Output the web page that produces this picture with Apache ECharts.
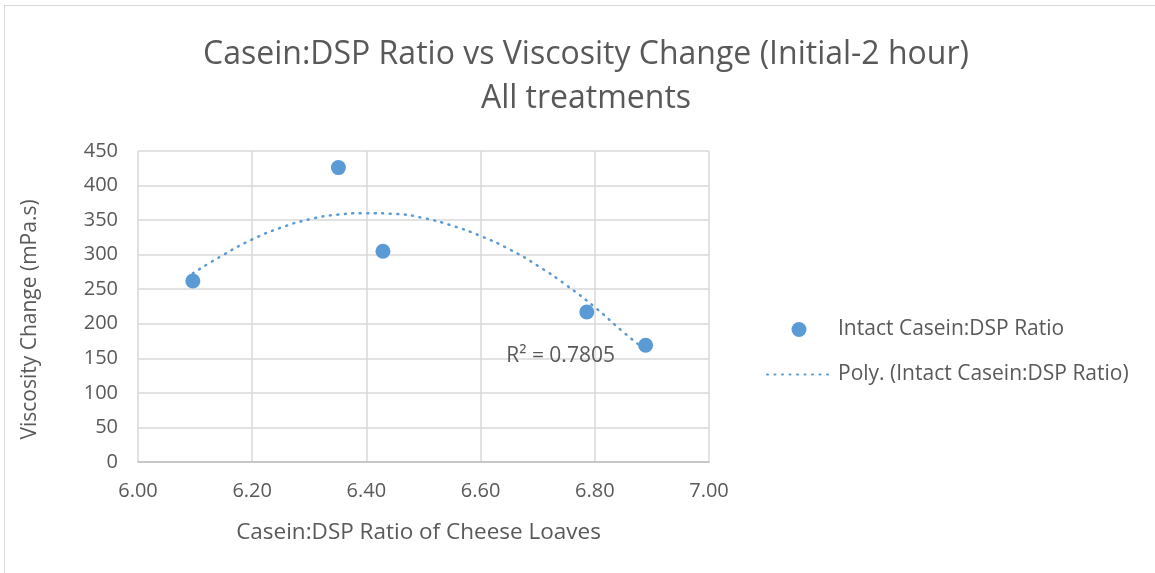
<!DOCTYPE html>
<html>
<head>
<meta charset="utf-8">
<script src="https://cdn.jsdelivr.net/npm/echarts@6/dist/echarts.min.js"></script>
<style>
  html, body { margin: 0; padding: 0; background: #fff; overflow: hidden; }
  #frame { position: absolute; left: 4px; top: 5px; width: 1200px; height: 620px; border: 1px solid #d9d9d9; }
  #chart { position: absolute; left: 0; top: 0; width: 1155px; height: 573px; }
</style>
</head>
<body>
<div id="frame"></div>
<div id="chart"></div>
<script>
// casein:DSP ratio (x) vs viscosity change (y)
const ratio = [6.096, 6.351, 6.429, 6.786, 6.889];
const viscosity = [262, 426, 305, 217, 169];

// poly trendline
const trendX = [6.096, 6.15, 6.20, 6.25, 6.30, 6.35, 6.40, 6.45, 6.50, 6.55, 6.60, 6.65, 6.70, 6.75, 6.80, 6.85, 6.889];
const trendY = [273, 300, 322, 339, 351, 358, 360, 359, 353, 342, 327, 308, 284, 256, 224, 188, 162];

const rSquared = '0.7805';
const seriesName = 'Intact Casein:DSP Ratio';
const trendName = 'Poly. (Intact Casein:DSP Ratio)';

const blue = '#5b9bd5';
const grey = '#595959';
const font = 'Open Sans';

const chart = echarts.init(document.getElementById('chart'));

const option = {
    backgroundColor: 'transparent',
    animation: false,
    title: {
        text: 'Casein:DSP Ratio vs Viscosity Change (Initial-2 hour)\nAll treatments',
        left: 581,
        textAlign: 'center',
        top: 28,
        textStyle: {
            color: grey,
            fontFamily: font,
            fontWeight: 'normal',
            fontSize: 32,
            lineHeight: 44
        }
    },
    legend: {
        orient: 'vertical',
        left: 761,
        top: 314,
        itemWidth: 64,
        itemHeight: 15,
        itemGap: 24,
        textStyle: {
            color: grey,
            fontFamily: font,
            fontSize: 21,
            padding: [0, 0, 0, 2]
        },
        data: [
            { name: seriesName, icon: 'circle' },
            { name: trendName, itemStyle: { opacity: 0 } }
        ]
    },
    grid: {
        left: 138,
        top: 151,
        width: 571,
        height: 311
    },
    xAxis: {
        type: 'value',
        min: 6,
        max: 7,
        interval: 0.2,
        name: 'Casein:DSP Ratio of Cheese Loaves',
        nameLocation: 'middle',
        nameGap: 59,
        nameTextStyle: { color: grey, fontFamily: font, fontSize: 22.5, padding: [0, 10, 0, 0] },
        axisLine: { show: true, lineStyle: { color: '#bfbfbf', width: 1.5 } },
        axisTick: { show: false },
        axisLabel: {
            color: grey,
            fontFamily: font,
            fontSize: 20,
            margin: 19,
            formatter: v => v.toFixed(2)
        },
        splitLine: { show: true, lineStyle: { color: '#d9d9d9', width: 1.5 } }
    },
    yAxis: {
        type: 'value',
        min: 0,
        max: 450,
        interval: 50,
        name: 'Viscosity Change (mPa.s)',
        nameLocation: 'middle',
        nameGap: 97,
        nameTextStyle: { color: grey, fontFamily: font, fontSize: 21, padding: [0, 26, 0, 0] },
        axisLine: { show: false },
        axisTick: { show: false },
        axisLabel: {
            color: grey,
            fontFamily: font,
            fontSize: 20,
            margin: 20
        },
        splitLine: { show: true, lineStyle: { color: '#d9d9d9', width: 1.5 } }
    },
    series: [
        {
            name: seriesName,
            type: 'scatter',
            symbol: 'circle',
            symbolSize: 15,
            itemStyle: { color: blue, opacity: 1 },
            data: ratio.map((x, i) => [x, viscosity[i]]),
            z: 3
        },
        {
            name: trendName,
            type: 'line',
            smooth: true,
            symbol: 'none',
            itemStyle: { color: blue },
            lineStyle: { color: blue, width: 2.5, type: [1, 6.5], cap: 'round' },
            data: trendX.map((x, i) => [x, trendY[i]]),
            markPoint: {
                symbol: 'circle',
                symbolSize: 0,
                silent: true,
                label: {
                    show: true,
                    position: 'inside',
                    formatter: 'R² = ' + rSquared,
                    color: grey,
                    fontFamily: font,
                    fontSize: 21
                },
                data: [{ coord: [6.74, 153] }]
            },
            z: 2
        }
    ]
};

chart.setOption(option);
</script>
</body>
</html>
